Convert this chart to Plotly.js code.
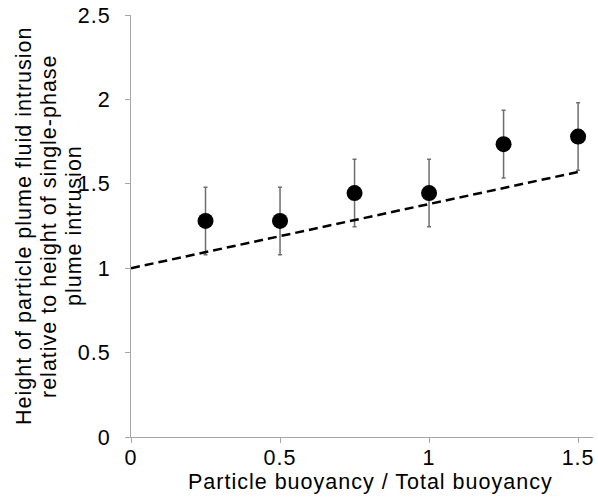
<!DOCTYPE html>
<html>
<head>
<meta charset="utf-8">
<script src="https://cdn.plot.ly/plotly-3.0.1.min.js"></script>
<style>
html,body{margin:0;padding:0;background:#fff;}
#chart{width:598px;height:500px;}
svg text{letter-spacing:1px;}
</style>
</head>
<body>
<div id="chart"></div>
<script>
var buoyancyRatio = [0.25, 0.5, 0.75, 1.0, 1.25, 1.5];
var heightRatio = [1.28, 1.28, 1.445, 1.445, 1.735, 1.78];
var heightError = [0.2, 0.2, 0.2, 0.2, 0.2, 0.2];
var modelX = [0, 1.5];
var modelY = [1.0, 1.57];
var xTicks = [0, 0.5, 1, 1.5];
var yTicks = [0, 0.5, 1, 1.5, 2, 2.5];
var xTitle = 'Particle buoyancy / Total buoyancy';
var yTitleLines = ['Height of particle plume fluid intrusion', 'relative to height of single-phase', 'plume intrusion'];

var font = 'Liberation Sans, Arial, Helvetica, sans-serif';
var fs = 21.5;

var traces = [
  {
    x: buoyancyRatio, y: heightRatio, type: 'scatter', mode: 'markers',
    marker: {color: '#000', size: 16},
    error_y: {type: 'data', array: heightError, visible: true, color: '#6e6e6e', thickness: 1.5, width: 2},
    showlegend: false
  },
  {
    x: modelX, y: modelY, type: 'scatter', mode: 'lines',
    line: {color: '#000', width: 2.5, dash: '9px,5px'},
    showlegend: false
  }
];

var lineShifts = [-107, -82, -57];
var annotations = yTitleLines.map(function (t, i) {
  return {
    text: t, xref: 'paper', yref: 'paper', x: 0, y: 0.5,
    xanchor: 'center', yanchor: 'middle', textangle: -90,
    xshift: lineShifts[i], showarrow: false,
    font: {family: font, size: fs, color: '#000'}
  };
});
annotations.push({
  text: xTitle, xref: 'paper', yref: 'paper', x: 0.5, y: 0,
  xanchor: 'center', yanchor: 'top', xshift: 8, yshift: -31, showarrow: false,
  font: {family: font, size: fs, color: '#000'}
});

var layout = {
  width: 598, height: 500,
  margin: {l: 131, r: 5, t: 15, b: 63},
  paper_bgcolor: '#fff', plot_bgcolor: '#fff',
  font: {family: font, color: '#000', size: fs},
  annotations: annotations,
  xaxis: {
    range: [0, 1.55], tickvals: xTicks, ticktext: xTicks.map(String),
    showgrid: false, zeroline: false, showline: true, linecolor: '#a6a6a6', linewidth: 1,
    ticks: 'outside', ticklen: 5, tickcolor: '#a6a6a6', ticklabelstandoff: -4,
    tickfont: {family: font, size: fs, color: '#000'}
  },
  yaxis: {
    range: [0, 2.5], tickvals: yTicks, ticktext: yTicks.map(String),
    showgrid: false, zeroline: false, showline: true, linecolor: '#a6a6a6', linewidth: 1,
    ticks: 'outside', ticklen: 5, tickcolor: '#a6a6a6', ticklabelstandoff: 10,
    tickfont: {family: font, size: fs, color: '#000'}
  }
};

Plotly.newPlot('chart', traces, layout, {displayModeBar: false, staticPlot: true});
</script>
</body>
</html>
